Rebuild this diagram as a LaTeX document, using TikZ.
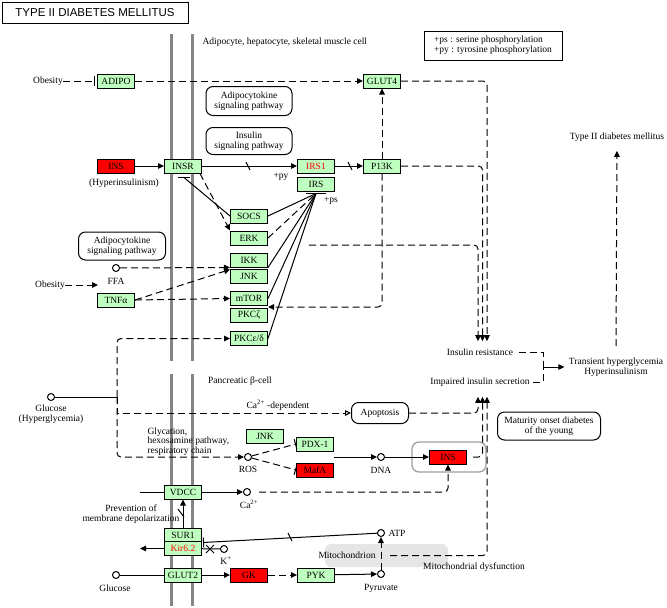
\documentclass[tikz,border=0pt]{standalone}
\usepackage{fontspec}
\setmainfont{Liberation Serif}
\newfontfamily\titlefont{Liberation Sans}
\usetikzlibrary{arrows.meta}

\definecolor{genegreen}{HTML}{BFFFBF}
\definecolor{genered}{HTML}{FF0000}
\definecolor{membranegray}{HTML}{858585}
\definecolor{mitogray}{HTML}{E6E6E6}

\tikzset{
  gene/.style={draw, fill=genegreen, minimum width=37pt, minimum height=14pt, inner sep=0pt},
  redgene/.style={gene, fill=genered},
  cpd/.style={draw, circle, fill=white, minimum size=7pt, inner sep=0pt, line width=1pt},
  mapbox/.style={draw, rounded corners=7pt, align=center, inner sep=3pt},
  lbl/.style={inner sep=0pt, align=center},
  act/.style={-{Triangle[length=6pt,width=5.5pt]}},
  dsh/.style={dash pattern=on 7pt off 4pt},
  inh/.style={-{Bar[width=10pt]}},
  wall/.style={draw=membranegray, line width=3pt}
}

\begin{document}
\begin{tikzpicture}[x=1pt, y=-1pt, line width=1pt, font=\fontsize{9.5}{10}\selectfont]
\useasboundingbox (0,0) rectangle (667,608);

% membranes
\draw[wall] (171,34) -- (171,361) (192,34) -- (192,361);
\draw[wall] (171,374) -- (171,606) (192,374) -- (192,606);
\fill[mitogray, rounded corners=6pt] (325,544) rectangle (448,567);
\node[draw=gray!75, line width=1.3pt, rounded corners=7pt, minimum width=74pt, minimum height=30pt] (insframe) at (449,457) {};

% title and legend
\node[draw, line width=1pt, minimum width=186pt, minimum height=21pt, font=\titlefont\fontsize{11.5}{12}\selectfont] (title) at (95,12.5) {TYPE II DIABETES MELLITUS};
\node[draw, align=left, minimum width=138pt, minimum height=29pt, inner sep=3pt] (legend) at (493,45.5) {+ps : serine phosphorylation\\+py : tyrosine phosphorylation};
\node[lbl, anchor=west] (cellname) at (202,42) {Adipocyte, hepatocyte, skeletal muscle cell};

% adipocyte / hepatocyte / muscle cell
\node[lbl] (obesity1) at (48,81) {Obesity};
\node[gene] (adipo) at (116,81) {ADIPO};
\node[gene] (glut4) at (382,81) {GLUT4};
\node[mapbox, minimum width=86pt, minimum height=29pt] (adipomap1) at (249,101) {Adipocytokine\\signaling pathway};
\node[mapbox, minimum width=86pt, minimum height=27pt] (insmap) at (249,141) {Insulin\\signaling pathway};
\node[redgene] (ins1) at (116,166) {INS};
\node[lbl] (hyperins) at (124,183) {(Hyperinsulinism)};
\node[gene] (insr) at (183,166) {INSR};
\node[gene] (irs1) at (316,166) {\textcolor{genered}{IRS1}};
\node[gene] (irs) at (316,184) {IRS};
\node[gene] (p13k) at (382,166) {P13K};
\node[lbl] (py) at (281,177) {+py};
\node[lbl] (ps) at (331,201) {+ps};
\node[gene] (socs) at (249,216) {SOCS};
\node[gene] (erk) at (249,238) {ERK};
\node[gene] (ikk) at (249,260) {IKK};
\node[gene] (jnk1) at (249,276) {JNK};
\node[gene] (mtor) at (249,298.5) {mTOR};
\node[gene] (pkcz) at (249,315) {PKCζ};
\node[gene] (pkce) at (249,338.5) {PKCε/δ};
\node[mapbox, minimum width=87pt, minimum height=28pt] (adipomap2) at (122,246) {Adipocytokine\\signaling pathway};
\node[cpd] (ffa) at (116,268) {};
\node[lbl] (ffalbl) at (116,281) {FFA};
\node[lbl] (obesity2) at (50,285) {Obesity};
\coordinate (obend) at (98,285);
\node[gene] (tnf) at (116,300) {TNFα};

% outcomes
\node[lbl] (t2dm) at (617,137) {Type II diabetes mellitus};
\node[lbl] (insres) at (480,352) {Insulin resistance};
\node[lbl] (iis) at (480,382) {Impaired insulin secretion};
\node[lbl] (trans) at (616,367) {Transient hyperglycemia\\Hyperinsulinism};
\coordinate (brk) at (543,367);

% pancreatic beta-cell
\node[lbl] (betacell) at (240,381) {Pancreatic β-cell};
\node[cpd] (glc1) at (51,397) {};
\node[lbl] (glc1lbl) at (51,414) {Glucose\\(Hyperglycemia)};
\coordinate (gj) at (117,397);
\node[lbl] (cadep) at (278,405) {Ca\textsuperscript{2+} -dependent};
\node[mapbox, minimum width=57pt, minimum height=21pt] (apop) at (380,413) {Apoptosis};
\node[mapbox, minimum width=103pt, minimum height=28pt] (mody) at (549,426) {Maturity onset diabetes\\of the young};
\node[lbl, align=left, anchor=north west, font=\fontsize{9.5}{8}\selectfont] (glyc) at (147,427) {Glycation,\\hexosamine pathway,\\respiratory chain};
\node[gene] (jnk2) at (265,436) {JNK};
\node[gene] (pdx1) at (315,444) {PDX-1};
\node[redgene] (mafa) at (315,470) {MafA};
\node[cpd] (ros) at (248,457) {};
\node[lbl] (roslbl) at (248,469) {ROS};
\coordinate (tfout) at (334,457);
\node[cpd] (dna) at (381,457) {};
\node[lbl] (dnalbl) at (381,470) {DNA};
\node[redgene] (ins2) at (448,457) {INS};
\node[gene] (vdcc) at (183,492) {VDCC};
\coordinate (vin) at (140,492);
\node[cpd] (ca) at (247,492) {};
\node[lbl] (calbl) at (249,504) {Ca\textsuperscript{2+}};
\node[lbl] (prevent) at (131,514) {Prevention of\\membrane depolarization};
\node[gene] (sur1) at (183,535) {SUR1};
\node[gene] (kir) at (183,548.5) {\textcolor{genered}{Kir6.2}};
\coordinate (kout) at (140,548.5);
\node[cpd] (kplus) at (224,549) {};
\node[lbl] (kpluslbl) at (226,561) {K\textsuperscript{+}};
\node[cpd] (atp) at (381,533) {};
\node[lbl, anchor=west] (atplbl) at (388,533) {ATP};
\node[lbl] (mito) at (347,555) {Mitochondrion};
\node[lbl] (mitodys) at (474,567) {Mitochondrial dysfunction};
\coordinate (mdys) at (390,555.5);
\node[cpd] (glc2) at (116,575) {};
\node[lbl] (glc2lbl) at (115,588) {Glucose};
\node[gene] (glut2) at (183,575) {GLUT2};
\node[redgene] (gk) at (249,575) {GK};
\node[gene] (pyk) at (316,575) {PYK};
\node[cpd] (pyr) at (381,574) {};
\node[lbl] (pyrlbl) at (381,588) {Pyruvate};

% connectors: insulin resistance side
\draw[dsh, inh, shorten >=2pt] (obesity1) -- (adipo);
\draw[dsh, act] (adipo) -- (glut4);
\draw[act] (ins1) -- (insr);
\draw[act] (insr) -- (irs1);
\draw (246,162) -- (250,170);
\draw[act] (irs1) -- (p13k);
\draw (348,162) -- (352,170);
\draw[dsh, act] (p13k) -- (glut4);
\draw[dsh, act, rounded corners=4pt] (p13k.south) |- ([yshift=-1pt]mtor.south east);
\draw[dsh, act, rounded corners=4pt] (glut4.east) -| ([xshift=7pt,yshift=7pt]insres.north);
\draw[dsh, act, rounded corners=4pt] (p13k.east) -| ([xshift=2.5pt,yshift=7pt]insres.north);
\coordinate (serp) at (309,245);
\draw[dsh, act, rounded corners=4pt] (serp) -| ([xshift=-2pt,yshift=7pt]insres.north);
\coordinate (insrb) at ([xshift=1pt,yshift=-4pt]insr.south);
\draw (socs.west) -- (insrb);
\draw ([xshift=-6pt]insrb) -- ([xshift=6pt]insrb);
\draw[dsh, act] ([xshift=-2pt]insr.south east) -- (erk.north west);
\coordinate (irsb) at ([yshift=-2pt]irs.south);
\draw ([xshift=-10pt]irsb) -- ([xshift=10pt]irsb);
\draw (socs.east) -- (irsb);
\draw[dsh] (erk.east) -- (irsb);
\draw (ikk.south east) -- (irsb);
\draw (mtor.east) -- (irsb);
\draw (pkce.east) -- (irsb);
\draw[dsh, act] (ffa) -- (ikk.south west);
\draw[dsh, act] (tnf.east) -- ([yshift=-2pt]ikk.south west);
\draw[dsh, act] (tnf.east) -- (mtor.west);
\draw[dsh, act] (obesity2) -- (obend);

% connectors: outcomes
\draw[dsh] ([xshift=5pt]insres.east) -| (brk);
\draw[dsh] ([xshift=3pt]iis.east) -| (brk);
\draw[act, shorten >=4pt] (brk) -- (trans.west);
\draw[dsh, act, shorten >=9pt] ([yshift=11pt]trans.north) -- (t2dm.south);

% connectors: beta-cell
\draw (glc1) -- (gj);
\draw[dsh, act, rounded corners=4pt] (gj) |- (pkce.west);
\draw[dsh, -{Triangle[open, length=6pt, width=5.5pt]}] (gj) |- (apop.west);
\draw[dsh, act, rounded corners=4pt] (gj) |- (ros.west);
\draw[dsh, inh] (ros) -- (pdx1.west);
\draw[dsh, inh] (ros) -- (mafa.west);
\draw[act] (tfout) -- (dna);
\draw[act] (dna) -- (ins2);
\draw[dsh, act, rounded corners=4pt] (apop.east) -| ([xshift=-2pt,yshift=-10pt]iis.south);
\draw[dsh, act, rounded corners=4pt] ([xshift=6pt]ins2.east) -| ([xshift=2.5pt,yshift=-10pt]iis.south);
\draw[dsh, act, rounded corners=4pt] (mdys) -| ([xshift=7pt,yshift=-10pt]iis.south);
\draw (vin) -- (vdcc);
\draw[act] (vdcc) -- (ca);
\draw[dsh, act, rounded corners=4pt] ([xshift=8pt]ca.east) -| (ins2.south);
\draw[act] (sur1) -- (vdcc);
\draw (178,509) -- (184,517);
\draw[inh] (atp) -- ([xshift=1pt]sur1.south east);
\draw (288,533) -- (292,541);
\draw[act] (kir) -- (kout);
\draw (kplus) -- (kir);
\draw (206,545) -- (214,553) (206,553) -- (214,545);
\draw (glc2) -- (glut2);
\draw[act] (glut2) -- (gk);
\draw[dsh, act] (gk) -- (pyk);
\draw[act] (pyk) -- (pyr);
\draw[dsh, act] (pyr) -- (atp);
\end{tikzpicture}
\end{document}
